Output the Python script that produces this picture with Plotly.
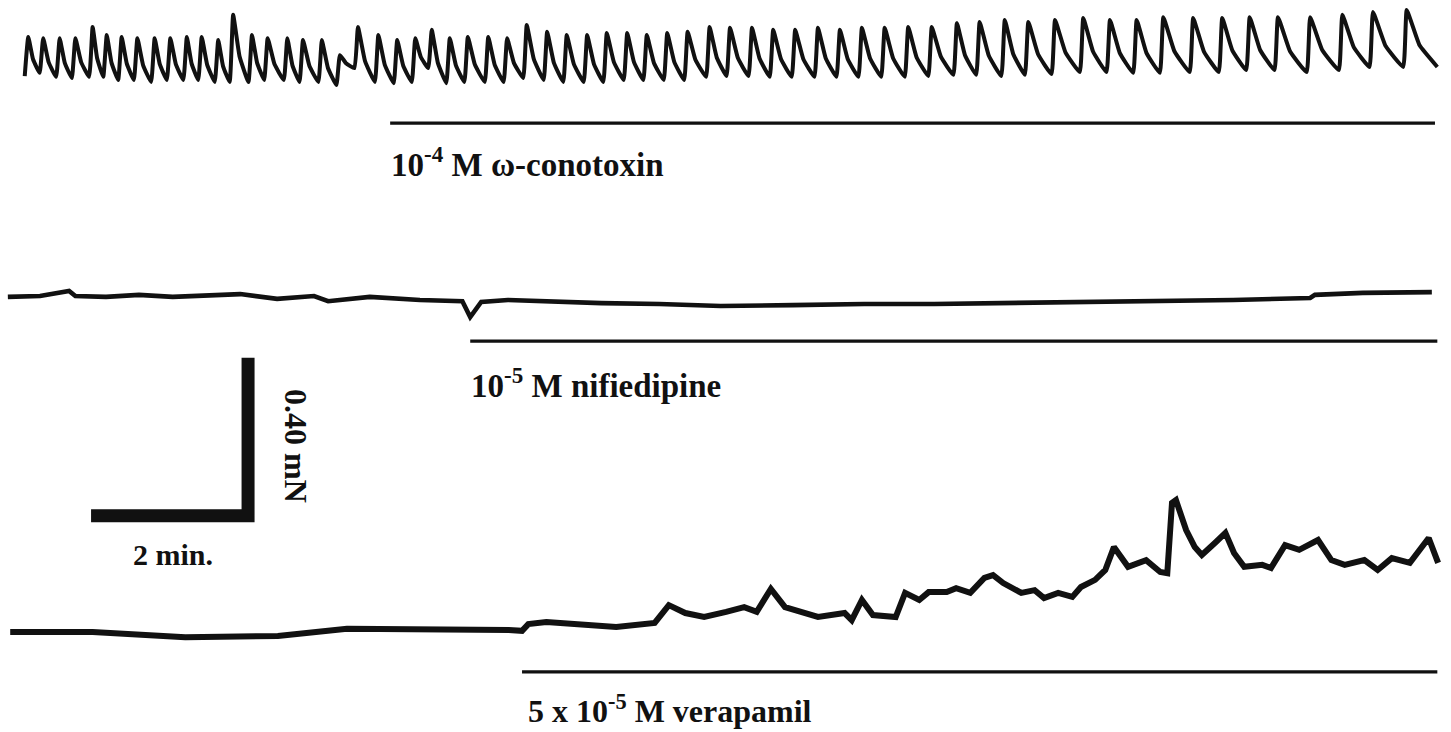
import plotly.graph_objects as go

# ---------------------------------------------------------------
# Isometric tension recordings (time in min, tension in mN)
# ---------------------------------------------------------------

# Trace 1: spontaneous phasic contractions, omega-conotoxin added
conotoxin_peak_t = [0.36, 0.55, 0.76, 0.96, 1.18, 1.36, 1.55, 1.75, 1.97, 2.17,
                    2.38, 2.57, 2.78, 2.97, 3.21, 3.41, 3.66, 3.86, 4.10, 4.33,
                    4.56, 4.82, 5.06, 5.29, 5.50, 5.73, 5.96, 6.22, 6.46, 6.71,
                    6.97, 7.22, 7.48, 7.73, 7.99, 8.24, 8.50, 8.76, 9.04, 9.30,
                    9.58, 9.85, 10.13, 10.42, 10.70, 10.98, 11.27, 11.57, 11.87, 12.19,
                    12.48, 12.80, 13.10, 13.44, 13.80, 14.14, 14.48, 14.82, 15.20, 15.57,
                    15.92, 16.28, 16.69, 17.10, 17.49, 17.92]
conotoxin_peak_mN = [0.109, 0.106, 0.106, 0.106, 0.134, 0.114, 0.109, 0.106, 0.106, 0.106,
                     0.109, 0.109, 0.101, 0.165, 0.114, 0.106, 0.106, 0.101, 0.101, 0.063,
                     0.134, 0.114, 0.101, 0.106, 0.127, 0.106, 0.109, 0.109, 0.106, 0.139,
                     0.122, 0.114, 0.114, 0.119, 0.119, 0.114, 0.119, 0.122, 0.134, 0.132,
                     0.132, 0.127, 0.127, 0.132, 0.127, 0.132, 0.132, 0.134, 0.134, 0.144,
                     0.147, 0.152, 0.147, 0.152, 0.157, 0.152, 0.152, 0.159, 0.157, 0.157,
                     0.159, 0.159, 0.159, 0.165, 0.172, 0.177]
conotoxin_base_mN = [0.010, 0.018, 0.008, 0.005, 0.008, 0.008, 0.000, 0.000, -0.005, 0.000,
                     0.000, 0.000, -0.005, -0.005, -0.005, 0.000, 0.000, -0.005, -0.005, -0.013,
                     0.030, -0.005, -0.008, -0.005, 0.030, -0.008, -0.005, -0.005, -0.005, 0.005,
                     0.000, -0.005, -0.005, -0.005, 0.000, 0.000, 0.000, 0.000, 0.008, 0.010,
                     0.010, 0.008, 0.008, 0.008, 0.008, 0.008, 0.008, 0.008, 0.010, 0.013,
                     0.013, 0.010, 0.013, 0.015, 0.020, 0.020, 0.018, 0.018, 0.020, 0.020,
                     0.025, 0.025, 0.020, 0.025, 0.033, 0.033]
conotoxin_end = (18.31, 0.033)

# Trace 2: nifedipine
nifedipine_t = [0.10, 0.51, 0.88, 0.96, 1.35, 1.77, 2.20, 2.55, 3.06, 3.53,
                4.00, 4.18, 4.71, 5.35, 5.89, 5.99, 6.13, 6.47, 7.05, 7.66,
                8.40, 9.18, 10.10, 11.01, 11.90, 12.76, 13.60, 14.54, 15.71, 16.69,
                16.75, 17.36, 18.24]
nifedipine_mN = [0.008, 0.010, 0.023, 0.010, 0.008, 0.013, 0.008, 0.010, 0.015, 0.003,
                 0.010, -0.003, 0.008, 0.000, -0.003, -0.043, -0.005, 0.000, -0.005, -0.008,
                 -0.010, -0.015, -0.013, -0.010, -0.010, -0.008, -0.005, -0.005, 0.000, 0.005,
                 0.013, 0.018, 0.020]

# Trace 3: verapamil
verapamil_t = [0.13, 1.18, 2.36, 3.54, 4.42, 5.31, 6.48, 6.65, 6.73, 6.96,
               7.38, 7.85, 8.34, 8.52, 8.73, 8.97, 9.25, 9.48, 9.64, 9.82,
               10.00, 10.24, 10.42, 10.76, 10.85, 10.98, 11.12, 11.41, 11.53, 11.71,
               11.83, 12.06, 12.18, 12.36, 12.54, 12.65, 12.78, 13.01, 13.18, 13.30,
               13.48, 13.66, 13.77, 13.95, 14.08, 14.19, 14.37, 14.60, 14.78, 14.87,
               14.93, 14.98, 15.11, 15.22, 15.31, 15.49, 15.61, 15.72, 15.85, 16.08,
               16.19, 16.37, 16.55, 16.79, 16.96, 17.13, 17.38, 17.55, 17.73, 17.96,
               18.20, 18.32]
verapamil_mN = [0.000, 0.000, -0.013, -0.010, 0.008, 0.008, 0.005, 0.003, 0.020, 0.025,
                0.018, 0.013, 0.023, 0.068, 0.048, 0.038, 0.051, 0.063, 0.051, 0.109,
                0.063, 0.048, 0.038, 0.048, 0.030, 0.081, 0.043, 0.038, 0.099, 0.081,
                0.101, 0.101, 0.111, 0.099, 0.137, 0.144, 0.124, 0.099, 0.106, 0.086,
                0.099, 0.089, 0.114, 0.132, 0.157, 0.215, 0.165, 0.182, 0.152, 0.149,
                0.327, 0.334, 0.258, 0.215, 0.195, 0.228, 0.251, 0.200, 0.165, 0.170,
                0.162, 0.220, 0.208, 0.233, 0.182, 0.170, 0.182, 0.157, 0.187, 0.175,
                0.238, 0.175]

# Drug application periods (min)
drug_labels = ["10<sup>-4</sup> M \u03c9-conotoxin",
               "10<sup>-5</sup> M nifiedipine",
               "5 x 10<sup>-5</sup> M verapamil"]
drug_start = [4.97, 5.99, 6.65]
drug_end = [18.28, 18.31, 18.31]

# Calibration bars
scale_time_min = 2.0
scale_force_mN = 0.40
scale_time_label = "2 min."
scale_force_label = "0.40 mN"

# ---------------------------------------------------------------
# Layout geometry
# ---------------------------------------------------------------
W, H = 1451, 732
PX_PER_MIN = 78.5
PX_PER_MN = 395.0
RISE = 0.045                     # upstroke duration of each contraction (min)
KNEE_T, KNEE_F = 0.42, 0.62      # relaxation curvature: fraction of interval / fraction of fall
BASE_PX = [80, 300, 632]         # vertical pixel of 0 mN for each trace
INK = "#111111"
FONT = dict(family="Liberation Serif, Times New Roman, serif", color=INK, weight=700)


def y_range(base_px):
    return [(base_px - H) / PX_PER_MN, base_px / PX_PER_MN]


# phasic trace: onset -> peak, then a curved relaxation towards the next onset
onset_t = [t - RISE for t in conotoxin_peak_t[1:]] + [conotoxin_end[0]]
onset_v = conotoxin_base_mN[1:] + [conotoxin_end[1]]
top_x = [conotoxin_peak_t[0] - RISE]
top_y = [conotoxin_base_mN[0]]
for t, p, nt, nb in zip(conotoxin_peak_t, conotoxin_peak_mN, onset_t, onset_v):
    top_x += [t, t + KNEE_T * (nt - t), nt]
    top_y += [p, p + KNEE_F * (nb - p), nb]

fig = go.Figure()
fig.add_trace(go.Scatter(x=top_x, y=top_y, mode="lines", yaxis="y",
                         line=dict(color=INK, width=4, shape="spline", smoothing=0.35),
                         hoverinfo="skip"))
fig.add_trace(go.Scatter(x=nifedipine_t, y=nifedipine_mN, mode="lines", yaxis="y2",
                         line=dict(color=INK, width=4.6), hoverinfo="skip"))
fig.add_trace(go.Scatter(x=verapamil_t, y=verapamil_mN, mode="lines", yaxis="y3",
                         line=dict(color=INK, width=6), hoverinfo="skip"))

# drug application bars and labels
bar_level = [-0.109, -0.104, -0.101]
label_level = [-0.208, -0.210, -0.195]
label_x = [4.97, 5.99, 6.71]
label_size = [33, 33, 32]
axes_ids = ["y", "y2", "y3"]
for i in range(3):
    fig.add_trace(go.Scatter(x=[drug_start[i], drug_end[i]], y=[bar_level[i]] * 2,
                             mode="lines", yaxis=axes_ids[i],
                             line=dict(color=INK, width=3.2), hoverinfo="skip"))
    fig.add_annotation(x=label_x[i], y=label_level[i], xref="x", yref=axes_ids[i],
                       text=drug_labels[i], showarrow=False, xanchor="left",
                       yanchor="middle", borderpad=0,
                       font=dict(size=label_size[i], **FONT))

# calibration L-bar (drawn on the bottom trace's axis)
corner_t, corner_mN = 3.16, 0.294
fig.add_trace(go.Scatter(x=[corner_t - scale_time_min, corner_t, corner_t],
                         y=[corner_mN, corner_mN, corner_mN + scale_force_mN],
                         mode="lines", yaxis="y3",
                         line=dict(color=INK, width=13), hoverinfo="skip"))
fig.add_annotation(x=corner_t - scale_time_min / 2 + 0.05, y=0.195, xref="x", yref="y3",
                   text=scale_time_label, showarrow=False, xanchor="center",
                   yanchor="middle", font=dict(size=30, **FONT))
fig.add_annotation(x=3.77, y=0.471, xref="x", yref="y3",
                   text=scale_force_label, showarrow=False, textangle=90,
                   xanchor="center", yanchor="middle", font=dict(size=32, **FONT))

hidden = dict(visible=False, showgrid=False, zeroline=False, fixedrange=True)
fig.update_layout(
    width=W, height=H, autosize=False,
    margin=dict(l=0, r=0, t=0, b=0, pad=0),
    paper_bgcolor="white", plot_bgcolor="white",
    showlegend=False,
    xaxis=dict(range=[0, W / PX_PER_MIN], domain=[0, 1], **hidden),
    yaxis=dict(range=y_range(BASE_PX[0]), domain=[0, 1], **hidden),
    yaxis2=dict(range=y_range(BASE_PX[1]), domain=[0, 1], overlaying="y", **hidden),
    yaxis3=dict(range=y_range(BASE_PX[2]), domain=[0, 1], overlaying="y", **hidden),
)

fig.write_html("out.html", config=dict(displayModeBar=False))
